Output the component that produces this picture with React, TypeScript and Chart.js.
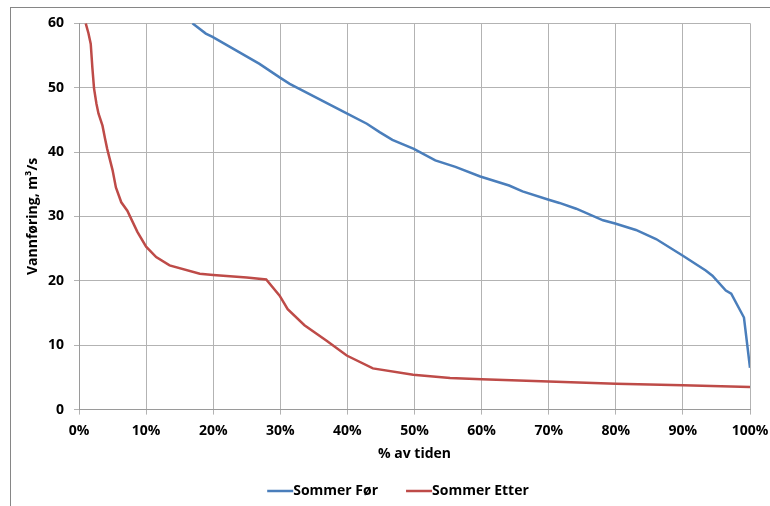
import React, { useEffect, useRef } from "react";
import { Chart, registerables } from "chart.js";

Chart.register(...registerables);

const foerX = [16.9, 18.9, 19.9, 26.9, 29.9, 31.4, 39.9, 42.9, 44.8, 46.7, 49.9, 53.1, 56.1, 59.8, 64.1, 66.1, 70.0, 71.6, 74.1, 78.1, 79.9, 83.0, 86.0, 90.0, 93.4, 94.4, 96.4, 97.2, 99.1, 100];
const foerY = [60, 58.4, 57.9, 53.7, 51.6, 50.6, 46.0, 44.4, 43.1, 41.9, 40.5, 38.7, 37.7, 36.2, 34.8, 33.9, 32.6, 32.1, 31.2, 29.4, 28.9, 27.9, 26.5, 23.9, 21.6, 20.8, 18.5, 18.0, 14.3, 6.5];

const etterX = [1.0, 1.4, 1.75, 2.0, 2.24, 2.6, 2.9, 3.5, 3.9, 4.2, 5.0, 5.5, 6.3, 7.2, 8.7, 10.0, 11.5, 13.5, 18.0, 20, 25, 27.9, 29.9, 31.1, 33.6, 36.9, 39.9, 43.8, 49.8, 55.3, 60, 70, 80, 90, 100];
const etterY = [60, 58.5, 56.8, 53, 49.9, 47.5, 46, 44.1, 42, 40.5, 37.2, 34.5, 32.2, 30.9, 27.6, 25.3, 23.7, 22.4, 21.1, 20.9, 20.5, 20.2, 17.7, 15.6, 13.1, 10.7, 8.4, 6.4, 5.4, 4.9, 4.7, 4.35, 4.0, 3.8, 3.5];

const seriesNames = ["Sommer Før", "Sommer Etter"];
const seriesColors = ["#4a7ebb", "#be4b48"];
const xTitle = "% av tiden";
const yTitle = "Vannføring, m³/s";

const FONT = "'Open Sans', 'Liberation Sans', sans-serif";

const legendPlugin = {
  id: "customLegend",
  afterDraw(chart: any) {
    const ctx = chart.ctx;
    ctx.save();
    ctx.font = `bold 14px ${FONT}`;
    ctx.textBaseline = "middle";
    ctx.textAlign = "left";
    const dash = 26;
    const gap = 28;
    const items = chart.data.datasets.map((d: any) => ({
      label: d.label,
      color: d.borderColor,
      w: ctx.measureText(d.label).width,
    }));
    let total = 0;
    items.forEach((it: any, i: number) => {
      total += dash + it.w + (i < items.length - 1 ? gap : 0);
    });
    let x = 398 - total / 2;
    const y = 491;
    items.forEach((it: any) => {
      ctx.strokeStyle = it.color;
      ctx.lineWidth = 2.5;
      ctx.beginPath();
      ctx.moveTo(x, y);
      ctx.lineTo(x + dash, y);
      ctx.stroke();
      ctx.fillStyle = "#000";
      ctx.fillText(it.label, x + dash, y);
      x += dash + it.w + gap;
    });
    ctx.restore();
  },
};

export default function App() {
  const ref = useRef<HTMLCanvasElement>(null);
  useEffect(() => {
    if (!ref.current) return;
    const toPts = (xs: number[], ys: number[]) => xs.map((x, i) => ({ x, y: ys[i] }));
    const chart = new Chart(ref.current, {
      type: "line",
      data: {
        datasets: [
          {
            label: seriesNames[0],
            data: toPts(foerX, foerY),
            borderColor: seriesColors[0],
            backgroundColor: seriesColors[0],
            borderWidth: 2.5,
            pointRadius: 0,
            tension: 0,
          },
          {
            label: seriesNames[1],
            data: toPts(etterX, etterY),
            borderColor: seriesColors[1],
            backgroundColor: seriesColors[1],
            borderWidth: 2.5,
            pointRadius: 0,
            tension: 0,
          },
        ],
      },
      options: {
        animation: false,
        responsive: false,
        devicePixelRatio: 1,
        layout: { padding: { left: 0, top: 23.3, right: 20, bottom: 41.4 } },
        plugins: { legend: { display: false }, tooltip: { enabled: false } },
        scales: {
          x: {
            type: "linear",
            min: 0,
            max: 100,
            afterFit(scale: any) {
              scale.height = 55;
              scale.paddingLeft = 0;
              scale.paddingRight = 0;
            },
            ticks: {
              stepSize: 10,
              padding: 8,
              color: "#000",
              font: { family: FONT, size: 14, weight: "bold" },
              callback: (v: any) => v + "%",
            },
            grid: { color: "#b3b3b3", lineWidth: 1, tickLength: 5 },
            border: { color: "#9a9a9a" },
            title: {
              display: true,
              text: xTitle,
              color: "#000",
              font: { family: FONT, size: 14, weight: "bold" },
              padding: { top: 0, bottom: 2.2 },
            },
          },
          y: {
            min: 0,
            max: 60,
            afterFit(scale: any) {
              scale.width = 79;
              scale.paddingTop = 0;
              scale.paddingBottom = 0;
            },
            ticks: {
              stepSize: 10,
              padding: 10,
              color: "#000",
              font: { family: FONT, size: 14, weight: "bold" },
            },
            grid: { color: "#b3b3b3", lineWidth: 1, tickLength: 5 },
            border: { color: "#9a9a9a" },
            title: {
              display: true,
              text: yTitle,
              color: "#000",
              font: { family: FONT, size: 14, weight: "bold" },
              padding: { top: 24.6, bottom: 0 },
            },
          },
        },
      },
      plugins: [legendPlugin],
    } as any);
    return () => chart.destroy();
  }, []);
  return (
    <div style={{ position: "fixed", left: 0, top: 0, width: 770, height: 506, overflow: "hidden", background: "#fff" }}>
      <div
        style={{
          position: "absolute",
          left: 10,
          top: 7,
          width: 900,
          height: 700,
          borderLeft: "1px solid #868686",
          borderTop: "1px solid #868686",
          boxSizing: "border-box",
        }}
      />
      <canvas ref={ref} width={770} height={506} style={{ position: "absolute", left: 0, top: 0 }} />
    </div>
  );
}
